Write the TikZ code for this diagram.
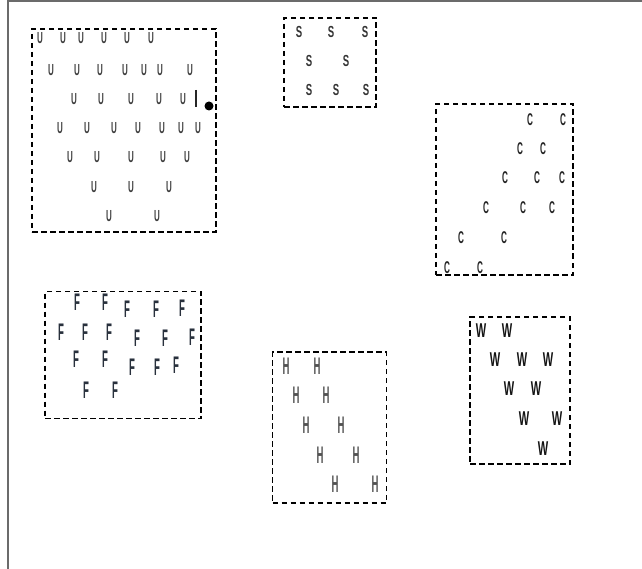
\documentclass[tikz,border=0pt]{standalone}
\usepackage{fontspec}
\setmainfont{Liberation Sans}
\begin{document}
\begin{tikzpicture}[x=1pt,y=-1pt,
  frameline/.style={draw=black!58,line width=2pt},
  grp/.style={draw=black,line width=1.1pt,dash pattern=on 5.5pt off 3.5pt},
  let/.style={inner sep=0pt,outer sep=0pt},
  ulet/.style={let,text=black!75,font=\fontsize{16}{16}\selectfont\bfseries},
  slet/.style={let,text=black!80,font=\fontsize{16}{16}\selectfont\bfseries},
  clet/.style={let,text=black!85,font=\fontsize{17}{17}\selectfont\bfseries},
  flet/.style={let,text={rgb,255:red,40;green,48;blue,60},font=\fontsize{24}{24}\selectfont\bfseries},
  hlet/.style={let,text=black!68,font=\fontsize{24}{24}\selectfont\bfseries},
  wlet/.style={let,text=black!92,font=\fontsize{20}{20}\selectfont\bfseries},
  mark dot/.style={circle,fill=black,inner sep=0pt,minimum size=9pt}]
\useasboundingbox (0,0) rectangle (642,569);
\fill[white] (0,0) rectangle (642,569);
% outer frame (top and left sides only)
\coordinate (ftl) at (7.5,1.5);
\coordinate (ftr) at (642,1.5);
\coordinate (fbl) at (7.5,569);
\draw[frameline] (fbl) -- (ftl) -- (ftr);

% group boxes
\node[grp,minimum width=184pt,minimum height=203pt,inner sep=0pt] (ubox) at (124,130.5) {};
\node[grp,minimum width=92pt,minimum height=89pt,inner sep=0pt] (sbox) at (330,62.5) {};
\node[grp,minimum width=137pt,minimum height=171pt,inner sep=0pt] (cbox) at (504.5,189.5) {};
\node[grp,minimum width=156pt,minimum height=127pt,inner sep=0pt] (fbox) at (123,355) {};
\node[grp,minimum width=114pt,minimum height=151pt,inner sep=0pt] (hbox) at (329.5,427.5) {};
\node[grp,minimum width=100pt,minimum height=147pt,inner sep=0pt] (wbox) at (520,390.5) {};

% U letters
\foreach \px/\py [count=\i] in {
  40/38, 63/38, 81/38, 104/38, 127/38, 151/38,
  51/70, 77/70, 100/70, 125/70, 144/70, 160/70, 190/70,
  74/99, 101/99, 131/99, 159/99, 183/99,
  60/128, 87/128, 114/128, 138/128, 162/128, 181/128, 198/128,
  70/157, 97/157, 131/157, 163/157, 187/157,
  94/187, 131/187, 169/187,
  109/216, 157/216}
  \node[ulet] (u\i) at (\px,\py) {\scalebox{0.5}[1]{U}};
\coordinate (bartop) at (196,90);
\coordinate (barbot) at (196,107.5);
\draw[line width=2pt,black!85] (bartop) -- (barbot);
\node[mark dot] (udot) at (209,106) {};

% S letters
\foreach \px/\py [count=\i] in {
  299/32, 331/32, 365/32,
  309/61, 346/61,
  309/90, 336/90, 366/90}
  \node[slet] (s\i) at (\px,\py) {\scalebox{0.6}[1]{S}};

% C letters
\foreach \px/\py [count=\i] in {
  530/120, 563/120,
  520/149, 543/149,
  505/178, 537/178, 562/178,
  486/208, 523/208, 552/208,
  461/238, 504/238,
  447/268, 480/268}
  \node[clet] (c\i) at (\px,\py) {\scalebox{0.48}[1]{C}};

% F letters
\foreach \px/\py [count=\i] in {
  77/302, 105/302, 127/309, 156/309, 182/308,
  61/332, 85/332, 109/332, 137/338, 165/338, 192/337,
  76/359, 105/359, 132/367, 157/367, 176/365,
  86/390, 115/390}
  \node[flet] (f\i) at (\px,\py) {\scalebox{0.4}[1]{F}};

% H letters
\foreach \px/\py [count=\i] in {
  286/366, 317/366,
  296/395, 326/395,
  306/425, 341/425,
  320/455, 356/455,
  335/484, 375/484}
  \node[hlet] (h\i) at (\px,\py) {\scalebox{0.4}[1]{H}};

% W letters
\foreach \px/\py [count=\i] in {
  481/331, 507/331,
  495/360, 522/360, 548/360,
  509/389, 536/389,
  524/419, 557/419,
  543/449}
  \node[wlet] (w\i) at (\px,\py) {\scalebox{0.55}[1]{W}};
\end{tikzpicture}
\end{document}
